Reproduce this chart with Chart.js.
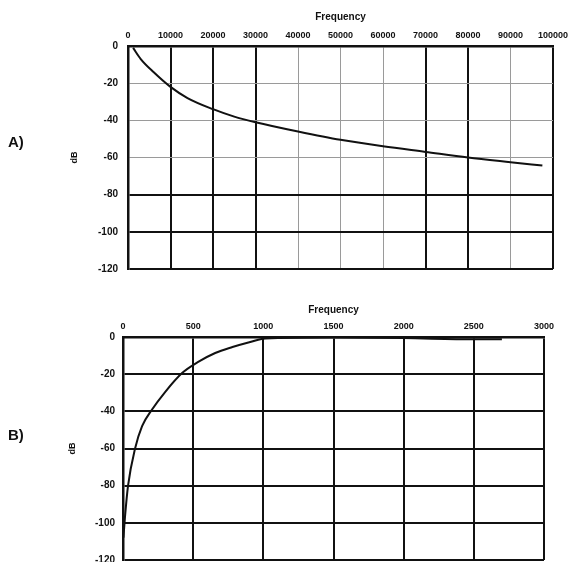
<!DOCTYPE html>
<html>
<head>
<meta charset="utf-8">
<title>Frequency response</title>
<script src="https://cdn.jsdelivr.net/npm/chart.js@4.4.1/dist/chart.umd.min.js"></script>
<style>
  html, body { margin: 0; padding: 0; background: #fff; overflow: hidden; }
  #page { position: relative; width: 574px; height: 562px; }
  .box { position: absolute; left: 0; width: 574px; }
  #boxA { top: 0; height: 285px; }
  #boxB { top: 285px; height: 290px; }
  .tag { position: absolute; left: 8px; font: bold 15px "Liberation Sans", Arial, sans-serif; color: #111; }
</style>
</head>
<body>
<div id="page">
  <div class="box" id="boxA"><canvas id="chartA"></canvas></div>
  <div class="box" id="boxB"><canvas id="chartB"></canvas></div>
  <div class="tag" style="top:133px">A)</div>
  <div class="tag" style="top:426px">B)</div>
</div>
<script>
// A) low-pass response, frequency in Hz vs gain in dB
const freqA = [1200, 3000, 6000, 10000, 14000, 20000, 25000, 30000, 40000, 50000, 60000, 70000, 80000, 90000, 97500];
const gainA = [-1, -7, -14, -22, -28, -34, -38, -41, -46, -50.5, -54, -57, -60, -62.5, -64.3];

// B) high-pass response
const freqB = [3, 14, 36, 86, 136, 207, 300, 421, 536, 657, 780, 900, 1014, 1500, 2000, 2500, 2700];
const gainB = [-108, -97, -80, -60, -48, -39, -29.6, -19.4, -13.4, -8.6, -5.4, -2.8, -0.8, -0.3, -0.6, -1.2, -1.2];

const gainTicks = [0, -20, -40, -60, -80, -100, -120];

// grid lines that came out faint on the printed plot A
const faintA = { x: [40000, 50000, 60000, 90000], y: [-20, -40, -60] };

const FONT = '"Liberation Sans", Arial, sans-serif';

function gridStyle(faint) {
  return {
    drawTicks: false,
    color: ctx => (ctx.tick && faint.includes(ctx.tick.value)) ? '#9a9a9a' : '#111',
    lineWidth: ctx => (ctx.tick && faint.includes(ctx.tick.value)) ? 1 : 2
  };
}

function buildChart(id, freq, gain, cfg) {
  const points = freq.map((f, i) => ({ x: f, y: gain[i] }));
  return new Chart(document.getElementById(id), {
    type: 'line',
    data: {
      datasets: [{
        data: points,
        borderColor: '#111',
        borderWidth: 2,
        pointRadius: 0,
        cubicInterpolationMode: 'monotone',
        fill: false
      }]
    },
    options: {
      responsive: true,
      maintainAspectRatio: false,
      animation: false,
      layout: { padding: cfg.padding },
      plugins: { legend: { display: false }, tooltip: { enabled: false } },
      scales: {
        x: {
          type: 'linear',
          position: 'top',
          min: 0,
          max: cfg.xMax,
          border: { color: '#111', width: 2.5 },
          grid: gridStyle(cfg.faintX),
          ticks: {
            stepSize: cfg.xStep,
            padding: 5,
            maxRotation: 0,
            autoSkip: false,
            color: '#111',
            font: { family: FONT, size: 9, weight: 'bold' },
            callback: v => String(v)
          },
          title: {
            display: true,
            text: 'Frequency',
            padding: 0,
            color: '#111',
            font: { family: FONT, size: 10, weight: 'bold' }
          },
          afterFit: s => { s.height = cfg.xAxisH; }
        },
        y: {
          type: 'linear',
          min: -120,
          max: 0,
          border: { color: '#111', width: 2.5 },
          grid: gridStyle(cfg.faintY),
          afterBuildTicks: s => { s.ticks = gainTicks.map(v => ({ value: v })); },
          ticks: {
            padding: cfg.yPad,
            color: '#111',
            font: { family: FONT, size: 10, weight: 'bold' },
            callback: v => String(v)
          },
          title: {
            display: true,
            text: 'dB',
            padding: 0,
            color: '#111',
            font: { family: FONT, size: 9, weight: 'bold' }
          },
          afterFit: s => { s.width = cfg.yAxisW; }
        }
      }
    }
  });
}

buildChart('chartA', freqA, gainA, {
  xMax: 100000, xStep: 10000,
  faintX: faintA.x, faintY: faintA.y,
  padding: { left: 69, top: 11, right: 21, bottom: 10 },
  xAxisH: 35, yAxisW: 59, yPad: 10
});

buildChart('chartB', freqB, gainB, {
  xMax: 3000, xStep: 500,
  faintX: [], faintY: [],
  padding: { left: 67, top: 19, right: 30, bottom: 15 },
  xAxisH: 33, yAxisW: 56, yPad: 8
});
</script>
</body>
</html>
